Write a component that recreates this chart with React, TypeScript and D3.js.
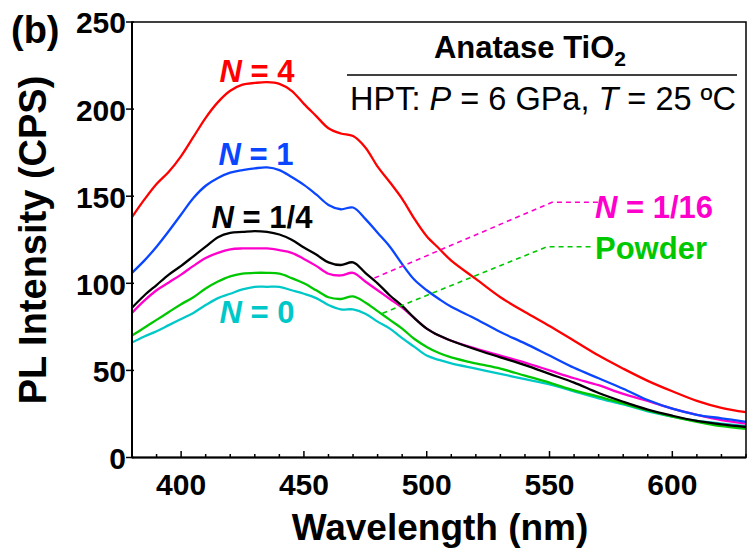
import React from "react";
import * as d3 from "d3";

const wavelengths = [380, 385, 390, 395, 400, 405, 410, 415, 420, 425, 430, 435, 440, 445, 450, 455, 460, 465, 470, 475, 480, 485, 490, 495, 500, 505, 510, 520, 530, 540, 550, 560, 570, 580, 590, 600, 610, 620, 630];

const n4 = [138, 148, 157, 164, 173, 184, 195, 204, 210.5, 214, 215, 215.5, 214.5, 210.5, 203, 196, 189, 186, 184.5, 178, 167, 158, 148.5, 137, 127, 120, 113, 102.5, 92, 83.5, 75.5, 67, 58.5, 51, 44, 38, 32.5, 28.5, 26];
const n1 = [106, 113, 121, 130, 139.5, 149, 156, 160.5, 163.5, 165, 166, 166.5, 165, 161, 156.5, 151, 145, 142.5, 143.5, 137, 129, 121, 111, 102, 96, 91, 86.5, 79.5, 72, 65.5, 58.5, 51.5, 45.5, 39.5, 33, 28, 24.5, 22.5, 20.5];
const nQuarter = [86, 93, 99, 105, 110, 115.5, 121, 126.5, 129, 129.5, 130, 129.5, 128, 125, 120.5, 116.5, 112, 110.5, 112, 106, 100, 93, 87, 80, 74, 70, 67, 62, 57.5, 53, 48, 43, 37, 32, 27.5, 24, 21, 19, 17.5];
const nSixteenth = [83, 90, 96, 100.5, 105, 110, 114.5, 117.5, 119.5, 120, 120, 120, 119, 117.5, 114, 110, 105.5, 104.5, 106, 101, 96, 91, 86, 80, 74, 70, 67, 62.5, 58.5, 54.5, 50, 45.5, 41.5, 36.5, 32.5, 28, 24.5, 21.5, 19.5];
const powder = [70, 74.5, 79, 83.5, 88, 92, 97, 101, 104, 105.5, 106, 106, 105.5, 103, 100, 96, 92, 91, 92.5, 89, 84, 79, 74, 68, 63.5, 60, 57.5, 54, 51, 47, 43, 38.5, 35, 31, 27, 23.5, 20.5, 18, 16.5];
const n0 = [66, 69.5, 72.5, 76, 79.5, 83, 87.5, 91.5, 94, 96.5, 98, 98, 98, 96, 94, 91.5, 87.5, 85, 85, 82.5, 78, 74, 68.5, 63.5, 58.5, 56, 54, 51, 48, 45, 42, 38, 34, 30.5, 26.5, 23.5, 21, 19.5, 18];

const xTicks = [400, 450, 500, 550, 600];
const xMinorTicks = d3.range(380, 631, 10);
const yTicks = [0, 50, 100, 150, 200, 250];

const seriesNames = ["N = 4", "N = 1", "N = 1/4", "N = 1/16", "Powder", "N = 0"];
const seriesColors = ["#ff0000", "#0a46ff", "#000000", "#ff00cc", "#00c800", "#00c8c8"];

// leader lines (wavelength, intensity)
const leaderSixteenth: [number, number][] = [[478.7, 103], [551, 146.5], [569.8, 146.5]];
const leaderPowder: [number, number][] = [[482, 82.8], [549, 121], [568, 121]];

const W = 749, H = 557;
const left = 132, right = 746, top = 22, bottom = 457.5;
const FONT = "'Liberation Sans', Arial, sans-serif";

export default function App() {
  const x = d3.scaleLinear().domain([380, 630]).range([left, right]);
  const y = d3.scaleLinear().domain([0, 250]).range([bottom, top]);
  const allSeries = [n4, n1, nQuarter, nSixteenth, powder, n0];
  const line = d3
    .line<[number, number]>()
    .x((d) => x(d[0]))
    .y((d) => y(d[1]))
    .curve(d3.curveCatmullRom.alpha(0.5));
  const straight = d3
    .line<[number, number]>()
    .x((d) => x(d[0]))
    .y((d) => y(d[1]));

  const drawOrder = [5, 4, 3, 2, 1, 0];

  return (
    <svg width={W} height={H} style={{ position: "absolute", left: 0, top: 0, background: "#fff" }} fontFamily={FONT}>
      <rect x={0} y={0} width={W} height={H} fill="#fff" />
      {drawOrder.map((i) => (
        <path
          key={i}
          d={line(wavelengths.map((w, k) => [w, allSeries[i][k]]) as [number, number][]) || ""}
          fill="none"
          stroke={seriesColors[i]}
          strokeWidth={2.3}
          strokeLinejoin="round"
        >
          <title>{seriesNames[i]}</title>
        </path>
      ))}
      <path d={straight(leaderSixteenth) || ""} fill="none" stroke={seriesColors[3]} strokeWidth={1.6} strokeDasharray="5,4" />
      <path d={straight(leaderPowder) || ""} fill="none" stroke={seriesColors[4]} strokeWidth={1.6} strokeDasharray="5,4" />

      <rect x={left} y={top} width={right - left} height={bottom - top} fill="none" stroke="#000" strokeWidth={1.5} />
      <line x1={left} x2={left} y1={top} y2={bottom} stroke="#000" strokeWidth={2} />
      <line x1={left} x2={right} y1={bottom} y2={bottom} stroke="#000" strokeWidth={2} />

      {xMinorTicks.map((t) => (
        <line key={"m" + t} x1={x(t)} x2={x(t)} y1={bottom} y2={bottom - (t % 50 === 0 ? 6.5 : 3.5)} stroke="#000" strokeWidth={1.5} />
      ))}
      {xTicks.map((t) => (
        <text key={"xt" + t} x={x(t)} y={495} textAnchor="middle" fontSize={30} fontWeight="bold" fill="#000">
          {t}
        </text>
      ))}
      {yTicks.map((t) => (
        <g key={"yt" + t}>
          <line x1={left - 6} x2={left + 2} y1={y(t)} y2={y(t)} stroke="#000" strokeWidth={1.5} />
          <text x={126} y={y(t)} dy="0.38em" textAnchor="end" fontSize={30} fontWeight="bold" fill="#000">
            {t}
          </text>
        </g>
      ))}

      <text x={440} y={540} textAnchor="middle" fontSize={37} fontWeight="bold" fill="#000">
        Wavelength (nm)
      </text>
      <text transform={`translate(46,${240}) rotate(-90)`} textAnchor="middle" fontSize={38} fontWeight="bold" fill="#000">
        PL Intensity (CPS)
      </text>

      <text x={11} y={43} fontSize={38} fontWeight="bold" fill="#000">(b)</text>

      <text x={530} y={58} textAnchor="middle" fontSize={31} fontWeight="bold" fill="#000">
        Anatase TiO<tspan fontSize={21} dy={8}>2</tspan>
      </text>
      <line x1={347} x2={737} y1={75} y2={75} stroke="#000" strokeWidth={1.5} />
      <text x={543} y={110} textAnchor="middle" fontSize={32.5} fill="#000">
        HPT: <tspan fontStyle="italic">P</tspan> = 6 GPa, <tspan fontStyle="italic">T</tspan> = 25 ºC
      </text>

      <text x={257} y={82} textAnchor="middle" fontSize={31} fontWeight="bold" fill={seriesColors[0]}>
        <tspan fontStyle="italic">N</tspan> = 4
      </text>
      <text x={256} y={165} textAnchor="middle" fontSize={31} fontWeight="bold" fill={seriesColors[1]}>
        <tspan fontStyle="italic">N</tspan> = 1
      </text>
      <text x={262} y={228} textAnchor="middle" fontSize={31} fontWeight="bold" fill={seriesColors[2]}>
        <tspan fontStyle="italic">N</tspan> = 1/4
      </text>
      <text x={257} y={323} textAnchor="middle" fontSize={31} fontWeight="bold" fill={seriesColors[5]}>
        <tspan fontStyle="italic">N</tspan> = 0
      </text>
      <text x={595} y={218} fontSize={31} fontWeight="bold" fill={seriesColors[3]}>
        <tspan fontStyle="italic">N</tspan> = 1/16
      </text>
      <text x={595} y={259} fontSize={31} fontWeight="bold" fill={seriesColors[4]}>
        Powder
      </text>
    </svg>
  );
}
